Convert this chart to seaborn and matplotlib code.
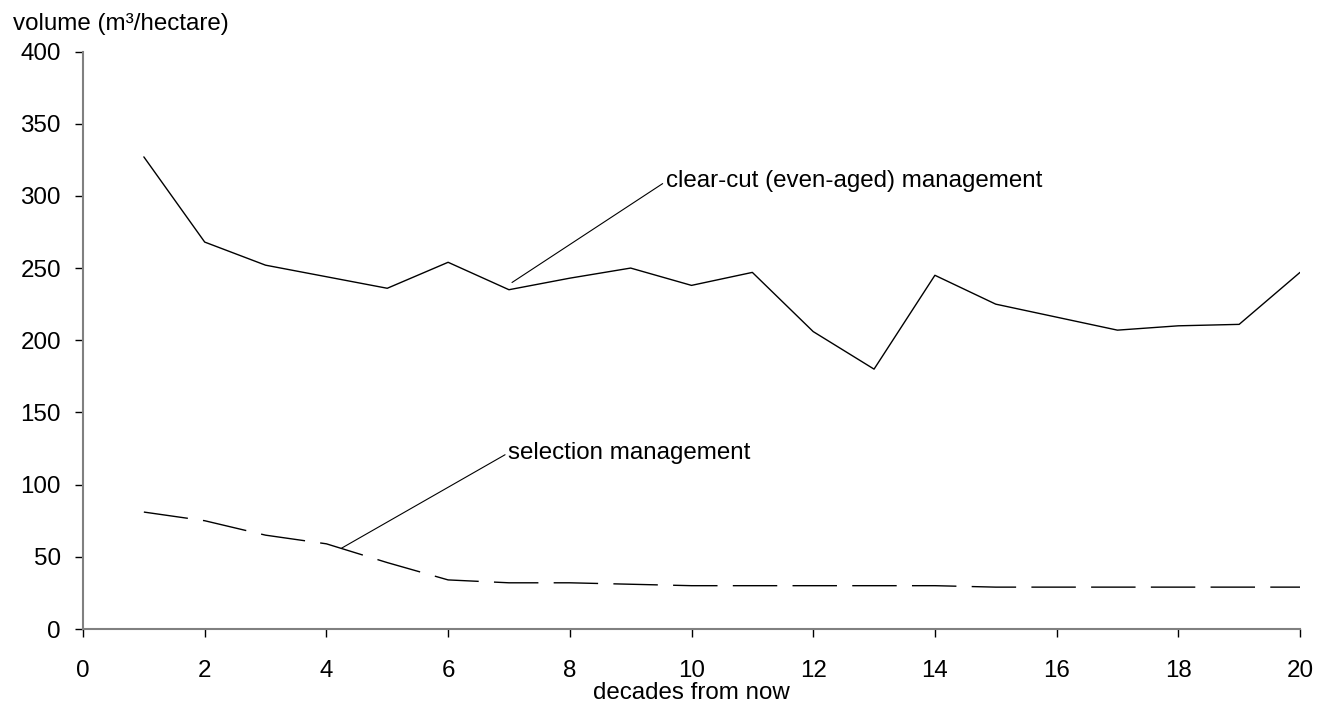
import matplotlib
matplotlib.use("Agg")
import matplotlib.pyplot as plt
import seaborn as sns
import pandas as pd

# Projected standing volume per management regime
decades = list(range(1, 21))
clear_cut = [327, 268, 252, 244, 236, 254, 235, 243, 250, 238,
             247, 206, 180, 245, 225, 216, 207, 210, 211, 247]
selection = [81, 75, 65, 59, 46, 34, 32, 32, 31, 30,
             30, 30, 30, 30, 29, 29, 29, 29, 29, 29]

x_ticks = list(range(0, 21, 2))
y_ticks = list(range(0, 401, 50))

df_clear = pd.DataFrame({"decade": decades, "volume": clear_cut})
df_sel = pd.DataFrame({"decade": decades, "volume": selection})

sns.set_style("ticks")
plt.rcParams["font.family"] = ["Liberation Sans", "DejaVu Sans"]
plt.rcParams["text.color"] = "black"
plt.rcParams["axes.labelcolor"] = "black"

FS = 17.4

fig = plt.figure(figsize=(13.29, 7.07), dpi=100)
ax = fig.add_axes([83 / 1329, 1 - 629 / 707, 1217 / 1329, 577.5 / 707])

sns.lineplot(data=df_clear, x="decade", y="volume", ax=ax,
             color="black", linewidth=1.0)
sns.lineplot(data=df_sel, x="decade", y="volume", ax=ax,
             color="black", linewidth=1.0, dashes=False)
ax.lines[-1].set_dashes((32, 11))

ax.set_xlim(0, 20)
ax.set_ylim(0, 400)
ax.set_xticks(x_ticks)
ax.set_yticks(y_ticks)
ax.margins(0)

for side in ("top", "right"):
    ax.spines[side].set_visible(False)
for side in ("left", "bottom"):
    ax.spines[side].set_color("#808080")
    ax.spines[side].set_linewidth(1.5)

ax.tick_params(axis="both", direction="out", length=6, width=1,
               color="black", labelsize=FS, labelcolor="black")
ax.tick_params(axis="x", pad=16.5)
ax.tick_params(axis="y", pad=10)

ax.set_xlabel("decades from now", fontsize=FS, labelpad=0)
ax.set_ylabel("")
fig.text(13 / 1329, 1 - 24 / 707, "volume (m³/hectare)", fontsize=FS,
         ha="left", va="center")

leader = dict(arrowstyle="-", color="black", lw=0.8,
              shrinkA=0, shrinkB=0, relpos=(0, 0.5))
ax.annotate("clear-cut (even-aged) management", xy=(7.05, 240),
            xytext=(9.58, 310), ha="left", va="center", fontsize=FS,
            arrowprops=leader)
ax.annotate("selection management", xy=(4.25, 56),
            xytext=(6.99, 122), ha="left", va="center", fontsize=FS,
            arrowprops=leader)

fig.savefig("out.png", dpi=100)
